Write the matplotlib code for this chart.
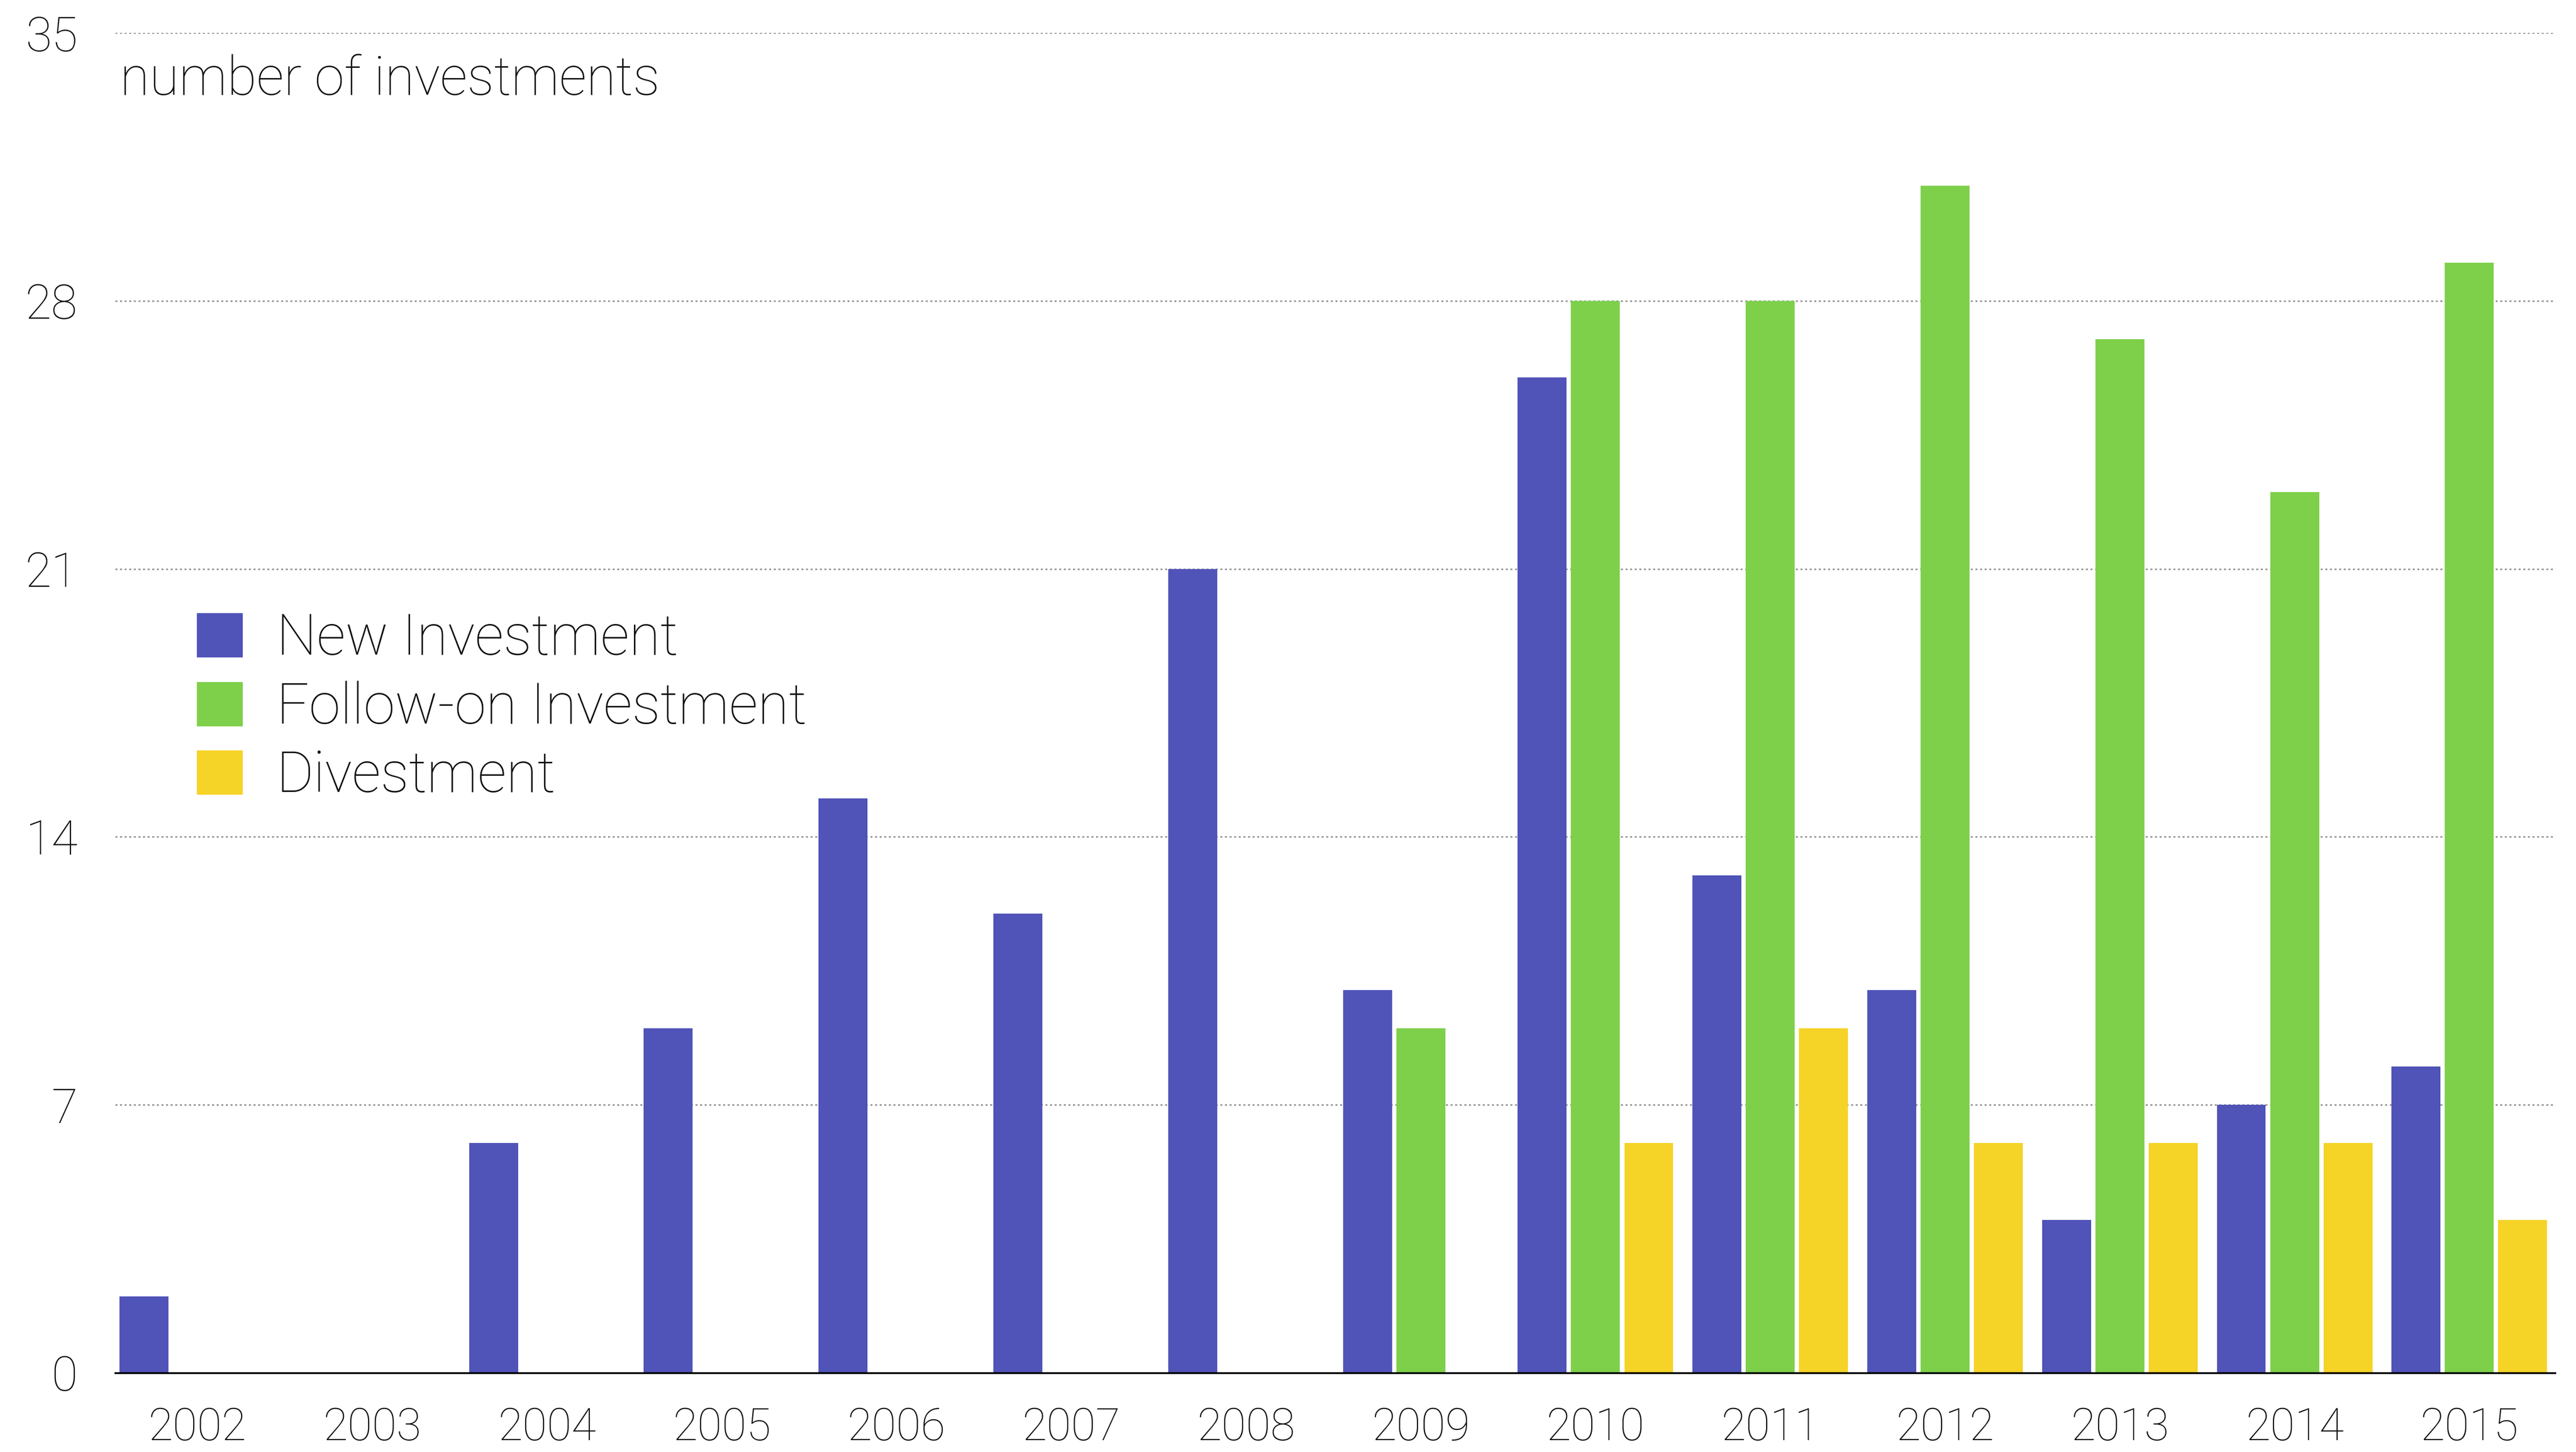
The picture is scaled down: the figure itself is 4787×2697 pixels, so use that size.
import numpy as np
import matplotlib
matplotlib.use("Agg")
import matplotlib.pyplot as plt
from matplotlib.patches import Patch

plt.rcParams['font.family'] = ['Roboto', 'DejaVu Sans']
plt.rcParams['font.weight'] = 'light'

years = ["2002", "2003", "2004", "2005", "2006", "2007", "2008",
         "2009", "2010", "2011", "2012", "2013", "2014", "2015"]
new_inv = [2, 0, 6, 9, 15, 12, 21, 10, 26, 13, 10, 4, 7, 8]
follow_on = [0, 0, 0, 0, 0, 0, 0, 9, 28, 28, 31, 27, 23, 29]
divest = [0, 0, 0, 0, 0, 0, 0, 0, 6, 9, 6, 6, 6, 4]

series_names = ["New Investment", "Follow-on Investment", "Divestment"]
colors = ["#5053B7", "#7ED04B", "#F5D327"]
yticks = [0, 7, 14, 21, 28, 35]

W, H = 4787, 2697
fig = plt.figure(figsize=(W / 100, H / 100), dpi=100)
ax = fig.add_axes([214 / W, 1 - 2550 / H, (4748 - 214) / W, (2550 - 61) / H])

x = np.arange(len(years))
bw = 0.28
off = 0.305
for i, vals in enumerate([new_inv, follow_on, divest]):
    ax.bar(x + (i - 1) * off, vals, width=bw, color=colors[i], zorder=3,
           linewidth=0)

ax.set_xlim(-0.47, len(years) - 0.51)
ax.set_ylim(0, 35)
ax.set_yticks(yticks)
ax.set_yticklabels([str(t) for t in yticks], fontsize=64, color="#111111")
ax.set_xticks(x)
ax.set_xticklabels(years, fontsize=60, color="#111111")
ax.tick_params(axis='y', length=0, pad=50)
ax.tick_params(axis='x', length=0, pad=45)

for t in yticks[1:]:
    ax.axhline(t, color="#9a9a9a", lw=2.2, linestyle=(0, (1.2, 1.6)), zorder=1)

for s in ["top", "right", "left"]:
    ax.spines[s].set_visible(False)
ax.spines["bottom"].set_linewidth(2.5)
ax.spines["bottom"].set_zorder(4)

ax.text(0.002, 0.965, "number of investments", transform=ax.transAxes,
        fontsize=72, va="center", ha="left", color="#111111")

handles = [Patch(color=c, label=n) for c, n in zip(colors, series_names)]
leg = fig.legend(handles=handles, loc="upper left",
                 bbox_to_anchor=(366 / W, 1 - 1137 / H),
                 frameon=False, fontsize=76, handlelength=0.8, handleheight=0.8,
                 handletextpad=0.6, labelspacing=0.25, borderaxespad=0,
                 borderpad=0)
for t in leg.get_texts():
    t.set_color("#111111")

fig.savefig("out.png", dpi=100)
